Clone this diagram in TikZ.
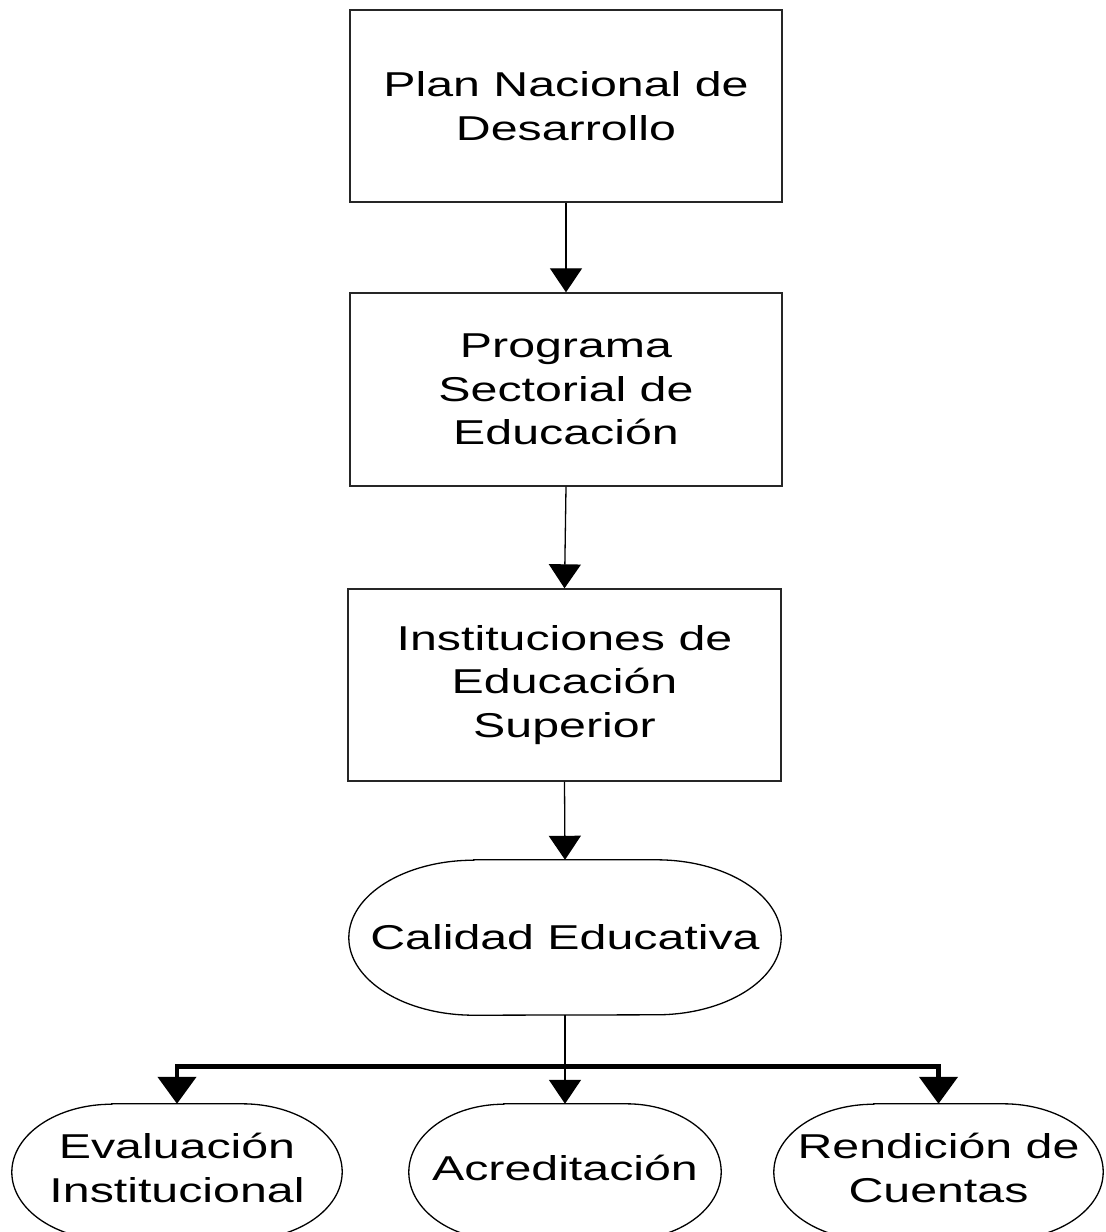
\documentclass[tikz,border=0pt]{standalone}
\usepackage{fontspec}
\setmainfont{Liberation Sans}[FakeStretch=1.4]
\usetikzlibrary{arrows.meta,calc}
\begin{document}
\begin{tikzpicture}[x=1pt,y=-1pt,
  every node/.style={inner sep=0pt,align=center,font=\fontsize{34.5}{43.5}\selectfont},
  boxnode/.style={draw=black!85,line width=1.4pt,minimum width=432pt,minimum height=192pt},
  termnode/.style={minimum width=#1,minimum height=136pt,text depth=8pt},
  termline/.style={draw=black,line width=1.3pt},
  arr/.style={draw=black,line width=1.3pt,-{Triangle[width=32pt,length=24pt]}},
  thickarr/.style={draw=black,line width=4.5pt,line join=miter,
    {Triangle[width=38pt,length=27pt]}-{Triangle[width=38pt,length=27pt]}}
]
\useasboundingbox (0,0) rectangle (1106,1232);
\clip (0,0) rectangle (1106,1232);
\fill[white] (0,0) rectangle (1106,1232);

\node[boxnode] (pnd) at (566,106) {Plan Nacional de\\Desarrollo};
\node[boxnode,minimum height=193pt] (pse) at (566,389.5) {Programa\\Sectorial de\\Educación};
\node[boxnode,minimum width=433pt] (ies) at (564.5,685) {Instituciones de\\Educación\\Superior};

\node[minimum width=432pt,minimum height=155pt] (cal) at (565,937.5) {Calidad Educativa};
\draw[termline] ([xshift=125pt]cal.north west) -- ([xshift=-125pt]cal.north east)
  arc[start angle=90,end angle=-90,x radius=125pt,y radius=77.5pt]
  -- ([xshift=125pt]cal.south west)
  arc[start angle=270,end angle=90,x radius=125pt,y radius=77.5pt] -- cycle;

\node[termnode=330pt] (eva) at (177,1172) {Evaluación\\Institucional};
\node[termnode=312pt] (acr) at (565,1172) {Acreditación};
\node[termnode=329pt] (ren) at (938.5,1172) {Rendición de\\Cuentas};
\foreach \n/\r in {eva/100,acr/95,ren/100}{
  \draw[termline] ([xshift=\r pt]\n.north west) -- ([xshift=-\r pt]\n.north east)
    arc[start angle=90,end angle=-90,x radius=\r pt,y radius=68pt]
    -- ([xshift=\r pt]\n.south west)
    arc[start angle=270,end angle=90,x radius=\r pt,y radius=68pt] -- cycle;
}

\draw[arr] (pnd.south) -- (pse.north);
\draw[arr] (pse.south) -- (ies.north);
\draw[arr] (ies.south) -- (cal.north);

\coordinate (bar) at (565,1066.5);
\draw[thickarr] (eva.north) |- (bar) -| (ren.north);
\draw[arr] (cal.south) -- (acr.north);
\end{tikzpicture}
\end{document}
